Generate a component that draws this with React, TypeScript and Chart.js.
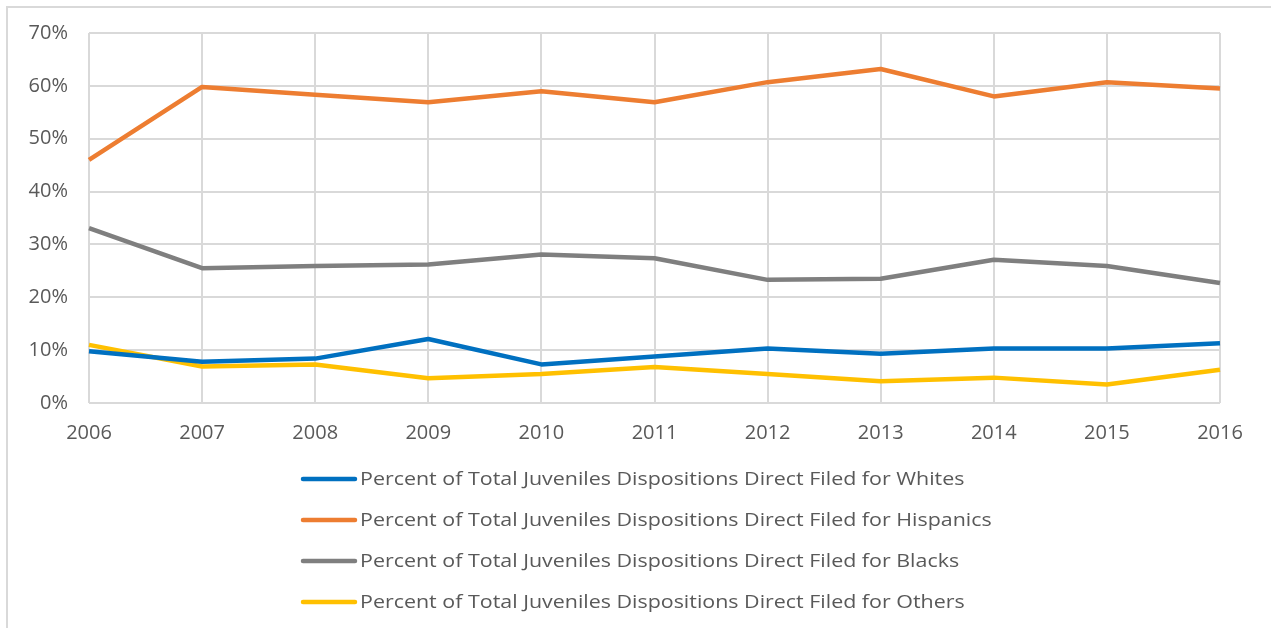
import React, { useEffect, useRef } from "react";
import { Chart, registerables } from "chart.js";

Chart.register(...registerables);

const years = ["2006", "2007", "2008", "2009", "2010", "2011", "2012", "2013", "2014", "2015", "2016"];
const whites = [0.098, 0.078, 0.084, 0.121, 0.073, 0.088, 0.103, 0.093, 0.103, 0.103, 0.113];
const hispanics = [0.46, 0.598, 0.583, 0.569, 0.59, 0.569, 0.607, 0.632, 0.58, 0.607, 0.595];
const blacks = [0.331, 0.255, 0.259, 0.262, 0.281, 0.274, 0.233, 0.235, 0.271, 0.259, 0.227];
const others = [0.11, 0.069, 0.073, 0.047, 0.055, 0.068, 0.055, 0.041, 0.048, 0.035, 0.063];

const seriesLabels = [
  "Percent of Total Juveniles Dispositions Direct Filed for Whites",
  "Percent of Total Juveniles Dispositions Direct Filed for Hispanics",
  "Percent of Total Juveniles Dispositions Direct Filed for Blacks",
  "Percent of Total Juveniles Dispositions Direct Filed for Others",
];
const seriesColors = ["#0070C0", "#ED7D31", "#7F7F7F", "#FFC000"];

const FONT = "'Open Sans', sans-serif";
const TEXT = "#595959";

const legendPlugin = {
  id: "stackedLegend",
  afterDraw(chart: any) {
    const ctx = chart.ctx;
    const ds = chart.data.datasets;
    const startX = 301;
    const lineW = 56;
    const firstY = 480;
    const step = 41;
    const stretch = 1.19;
    ctx.save();
    ctx.font = `18px ${FONT}`;
    ctx.textBaseline = "middle";
    ctx.textAlign = "left";
    ds.forEach((d: any, i: number) => {
      const y = firstY + i * step;
      ctx.strokeStyle = d.borderColor;
      ctx.lineWidth = 4.5;
      ctx.lineCap = "round";
      ctx.beginPath();
      ctx.moveTo(startX + 2, y - 1);
      ctx.lineTo(startX + lineW - 2, y - 1);
      ctx.stroke();
      ctx.save();
      ctx.translate(startX + lineW + 3, y);
      ctx.scale(stretch, 1);
      ctx.fillStyle = TEXT;
      ctx.fillText(d.label, 0, 0);
      ctx.restore();
    });
    ctx.restore();
  },
};

export default function App() {
  const ref = useRef<HTMLCanvasElement>(null);
  useEffect(() => {
    if (!ref.current) return;
    const data = [whites, hispanics, blacks, others];
    const chart = new Chart(ref.current, {
      type: "line",
      data: {
        labels: years,
        datasets: data.map((vals, i) => ({
          label: seriesLabels[i],
          data: vals,
          borderColor: seriesColors[i],
          backgroundColor: seriesColors[i],
          borderWidth: 4.5,
          pointRadius: 0,
          tension: 0,
          fill: false,
          borderJoinStyle: "round" as const,
        })),
      },
      options: {
        responsive: false,
        animation: false,
        layout: { padding: { top: 33, right: 51, left: 0, bottom: 0 } },
        plugins: {
          legend: { display: false },
          tooltip: { enabled: false },
          title: { display: false },
        },
        scales: {
          x: {
            offset: false,
            grid: { color: "#D9D9D9", lineWidth: 2, drawTicks: false },
            border: { display: false },
            ticks: {
              color: TEXT,
              font: { family: FONT, size: 20 },
              padding: 18,
              maxRotation: 0,
              autoSkip: false,
            },
            afterFit: (scale: any) => {
              scale.height = 225;
            },
          },
          y: {
            min: 0,
            max: 0.7,
            grid: { color: "#D9D9D9", lineWidth: 2, drawTicks: false },
            border: { display: false },
            ticks: {
              stepSize: 0.1,
              color: TEXT,
              font: { family: FONT, size: 20 },
              padding: 21,
              callback: (v: any) => `${Math.round(Number(v) * 100)}%`,
            },
            afterFit: (scale: any) => {
              scale.width = 89;
            },
          },
        },
      },
      plugins: [legendPlugin],
    });
    return () => chart.destroy();
  }, []);

  return (
    <div style={{ position: "fixed", left: 0, top: 0, width: 1271, height: 628, background: "#fff", overflow: "hidden" }}>
      <div
        style={{
          position: "absolute",
          left: 6,
          top: 6,
          width: 1400,
          height: 800,
          borderTop: "2px solid #D9D9D9",
          borderLeft: "2px solid #D9D9D9",
        }}
      />
      <canvas ref={ref} width={1271} height={628} style={{ position: "absolute", left: 0, top: 0 }} />
    </div>
  );
}
